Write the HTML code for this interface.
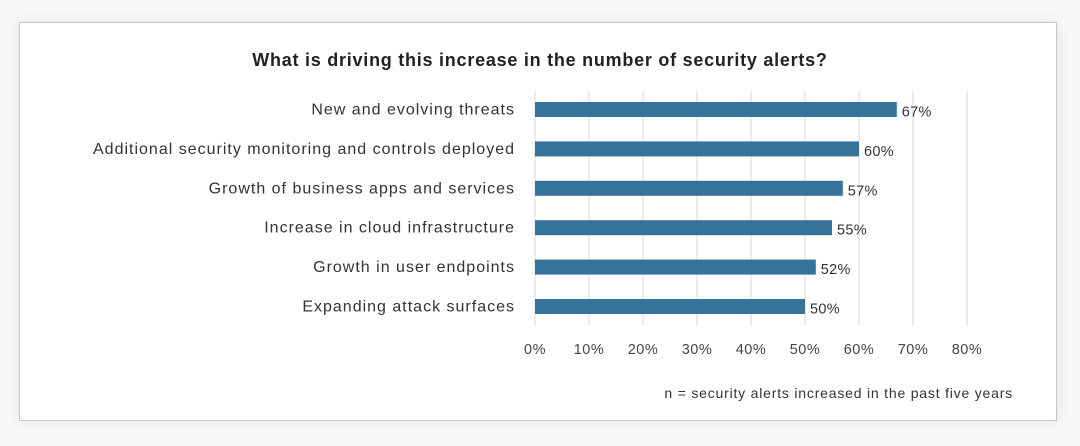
<!DOCTYPE html>
<html><head><meta charset="utf-8"><style>
html,body{margin:0;padding:0;background:#f7f7f7;width:1080px;height:446px;overflow:hidden;font-family:"Liberation Sans",sans-serif}
#frame{position:absolute;left:19px;top:22px;width:1036px;height:397px;background:#fff;border:1.5px solid #c9c6bd;box-shadow:0 0 14px rgba(0,0,0,0.08)}
svg{position:absolute;left:0;top:0}
</style></head><body>
<div id="frame"></div>
<svg id="chart" width="1080" height="446">
<text x="540" y="66" text-anchor="middle" font-size="18" letter-spacing="0.75" font-weight="bold" fill="#222">What is driving this increase in the number of security alerts?</text>
<text x="1013" y="398" text-anchor="end" font-size="14" letter-spacing="0.8" fill="#333">n = security alerts increased in the past five years</text>
</svg>
<script>
const categories=["New and evolving threats","Additional security monitoring and controls deployed","Growth of business apps and services","Increase in cloud infrastructure","Growth in user endpoints","Expanding attack surfaces"];
const values=[67,60,57,55,52,50];
const ticks=[0,10,20,30,40,50,60,70,80];
const svg=document.getElementById('chart');
const NS='http://www.w3.org/2000/svg';
const x0=535,x1=967,maxV=80;
const xs=v=>x0+(x1-x0)*v/maxV;
const ys=i=>109.5+i*39.4;
function mk(t,a){const e=document.createElementNS(NS,t);for(const k in a)e.setAttribute(k,a[k]);svg.appendChild(e);return e;}
ticks.forEach(t=>{
  const g=mk('line',{x1:xs(t),x2:xs(t),y1:91,y2:326,stroke:'#d9d9d9','stroke-width':1});
  
  
  const l=mk('text',{x:xs(t),y:354,'text-anchor':'middle','font-size':14.5,'letter-spacing':0.5,fill:'#444'});
  l.textContent=t+'%';
  
  
});
categories.forEach((c,i)=>{
  const y=ys(i);
  const b=mk('rect',{x:x0,y:y-7.5,width:xs(values[i])-x0,height:15,fill:'#35739a'});
  
  
  const l=mk('text',{x:515,y:y+5,'text-anchor':'end','font-size':16,'letter-spacing':1,fill:'#333'});
  l.textContent=c;
  
  
  const v=mk('text',{x:xs(values[i])+5,y:y+7,'font-size':14.5,'letter-spacing':0.3,fill:'#333'});
  v.textContent=values[i]+'%';
  
  
});
</script>
</body></html>
